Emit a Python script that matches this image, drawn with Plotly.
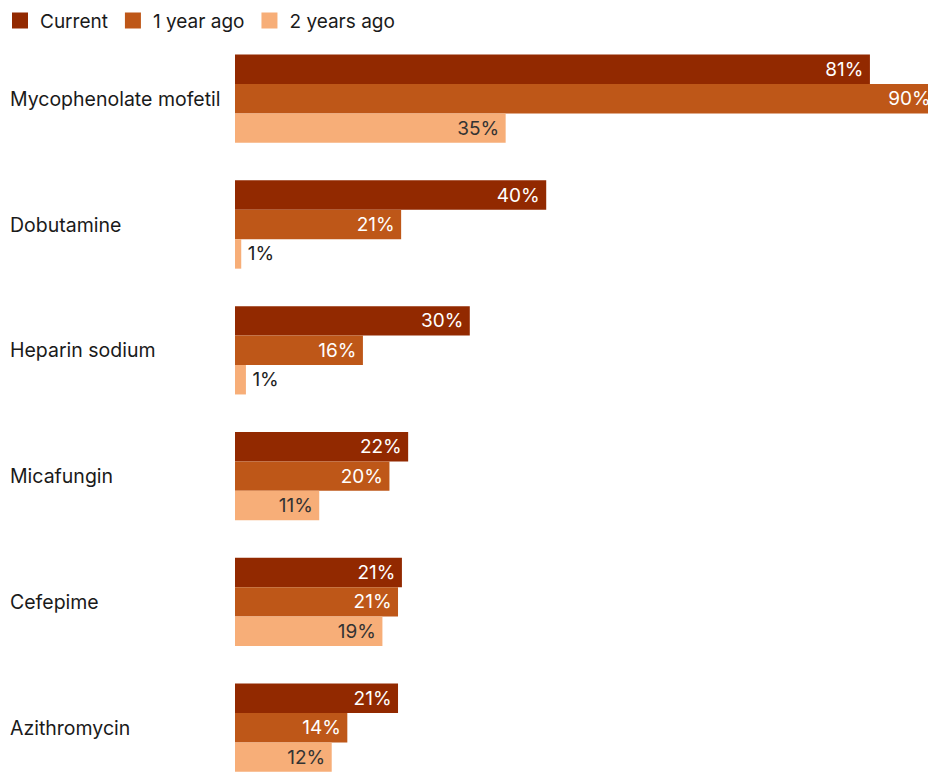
import plotly.graph_objects as go

categories = ["Mycophenolate mofetil", "Dobutamine", "Heparin sodium",
              "Micafungin", "Cefepime", "Azithromycin"]
series_names = ["Current", "1 year ago", "2 years ago"]
current = [81.4, 39.9, 30.1, 22.2, 21.4, 20.9]
one_year_ago = [90.0, 21.3, 16.4, 19.8, 20.9, 14.4]
two_years_ago = [34.7, 0.8, 1.4, 10.8, 18.9, 12.4]

colors = ["#922900", "#BE5718", "#F7AE78"]
inside_text_colors = ["#FFFFFF", "#FFFFFF", "#333333"]

FONT = "Inter, Lato, sans-serif"
W, H = 928, 773
L, T = 235, 45
PX_PER_UNIT = 7.8
CAT0_CENTER = 98.7
CAT_PITCH = 125.8

fig = go.Figure()
for name, vals, col, tcol in zip(series_names, [current, one_year_ago, two_years_ago],
                                 colors, inside_text_colors):
    fig.add_trace(go.Bar(
        y=categories, x=vals, orientation="h", name=name,
        marker=dict(color=col, line=dict(width=0)),
        texttemplate="\u2009%{x:.0f}%\u2009", textposition="auto",
        insidetextanchor="end", constraintext="none",
        insidetextfont=dict(family=FONT, size=19, color=tcol),
        outsidetextfont=dict(family=FONT, size=19, color="#222222"),
        showlegend=False, hoverinfo="skip",
    ))
    # legend proxy with larger square swatch
    fig.add_trace(go.Scatter(
        x=[None], y=[None], mode="markers", name=name,
        marker=dict(symbol="square", size=20, color=col, line=dict(width=0)),
        showlegend=True,
    ))

plot_w = W - L
plot_h = H - T
y_top = (T - CAT0_CENTER) / CAT_PITCH
y_bot = (H - CAT0_CENTER) / CAT_PITCH

for c in categories:
    fig.add_annotation(x=(8 - L) / plot_w, xref="paper", xanchor="left",
                       y=c, yref="y", yanchor="middle", text=c, showarrow=False,
                       font=dict(family=FONT, size=19.5, color="#1a1a1a"))

fig.update_layout(
    width=W, height=H,
    margin=dict(l=L, r=0, t=T, b=0, pad=0),
    barmode="group", bargap=0.298, bargroupgap=0,
    plot_bgcolor="white", paper_bgcolor="white",
    font=dict(family=FONT, size=19, color="#1a1a1a"),
    xaxis=dict(range=[0, plot_w / PX_PER_UNIT], visible=False, fixedrange=True),
    yaxis=dict(categoryorder="array", categoryarray=categories,
               range=[y_bot, y_top], showticklabels=False, showgrid=False,
               zeroline=False, showline=False, ticks=""),
    legend=dict(orientation="h", xref="container", yref="container",
                x=-0.004, y=0.998, xanchor="left", yanchor="top",
                font=dict(family=FONT, size=19, color="#1a1a1a"),
                itemsizing="trace", itemwidth=30, tracegroupgap=0,
                bgcolor="rgba(0,0,0,0)"),
)

fig.write_html("out.html")
